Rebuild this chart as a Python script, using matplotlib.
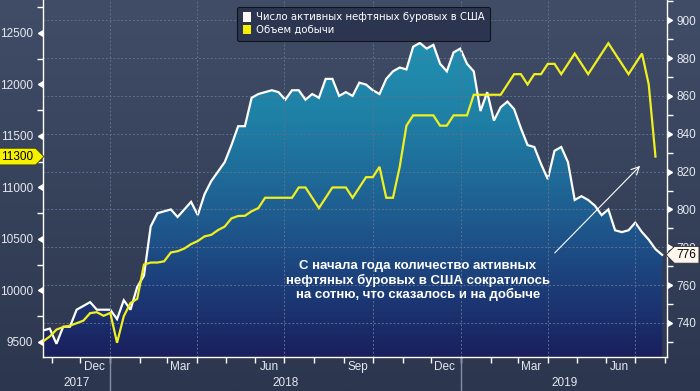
import numpy as np
import pandas as pd
import matplotlib
matplotlib.use("Agg")
import matplotlib.pyplot as plt
import matplotlib.dates as mdates
import matplotlib.transforms as mtransforms
from matplotlib.colors import LinearSegmentedColormap
from matplotlib.patches import Patch
from matplotlib.path import Path
from matplotlib.ticker import MultipleLocator
from matplotlib.markers import CARETLEFTBASE, CARETRIGHTBASE

#--------------------
# Data (weekly)
week_start = "2017-10-23"

# Baker Hughes oil rig count, right axis
rig_count = [736, 737, 729, 738, 738, 747, 749, 751, 747, 747, 747, 742,
             752, 747, 759, 765, 791, 798, 799, 800, 796, 800, 804, 797,
             808, 815, 820, 825, 834, 844, 844, 859, 861, 862, 863, 862,
             858, 863, 863, 858, 861, 859, 869, 869, 860, 862,
             860, 867, 866, 863, 861, 869, 873, 875, 874, 886, 888, 885,
             887, 877, 873, 883, 885, 877, 873, 852, 862, 847, 854,
             857, 853, 843, 834, 833, 824, 816, 831, 833, 825, 805, 807,
             805, 802, 797, 800, 789, 788, 789, 793, 788, 784, 779, 776]

# US crude production, thousand b/d, left axis
production = [9505, 9553, 9620, 9645, 9658, 9682, 9707, 9780, 9789, 9754,
              9782, 9492, 9750, 9878, 9919, 10251, 10271, 10271, 10283,
              10369, 10381, 10407, 10450, 10480,
              10525, 10540, 10586, 10620, 10700, 10723, 10725, 10769, 10800,
              10900, 10900, 10900, 10900, 10900, 11000, 11000, 10900, 10800,
              10900, 11000, 11000, 11000,
              10900, 11000, 11100, 11100, 11200, 10900, 10900, 11200, 11600,
              11700, 11700, 11700, 11700, 11600, 11600, 11700, 11700, 11700,
              11900, 11900, 11900, 11900, 11900,
              12000, 12100, 12100, 12000, 12100, 12100, 12200, 12200, 12100,
              12200, 12300, 12200, 12100, 12200, 12300, 12400, 12300, 12200,
              12100, 12200, 12300, 12000, 11300]

left_ticks = [9500, 10000, 10500, 11000, 11500, 12000, 12500]
right_ticks = [740, 760, 780, 800, 820, 840, 860, 880, 900]
years = [2017, 2018, 2019]
legend_labels = ["Число активных нефтяных буровых в США", "Объем добычи"]
note = ("С начала года количество активных\n"
        "нефтяных буровых в США сократилось\n"
        "на сотню, что сказалось и на добыче")

#--------------------
# Style
BG_TOP = "#414d67"
BG_BOTTOM = "#2c364f"
FILL_STOPS = [(0.0, "#2399b7"), (0.34, "#1f7fa5"), (0.62, "#1e5a8e"),
              (0.81, "#1c3c78"), (1.0, "#1a1f5e")]
YELLOW = "#f0f01e"
GRID = "#5d7090"
TXT = "#e4e8f0"
TICK_FONT = "Liberation Sans"

X_MIN, X_MAX = pd.Timestamp("2017-10-23"), pd.Timestamp("2019-08-03")
YL_MIN, YL_MAX = 9354, 12820
YR_MIN, YR_MAX = 722, 910.7

rig_dates = pd.date_range(week_start, periods=len(rig_count), freq="7D")
prod_dates = rig_dates[:len(production)]


def tag_box(pointing):
    """Callable box style: label box with a pointed end."""
    def style(x0, y0, width, height, mutation_size):
        pad = 0.2 * mutation_size
        x0, y0 = x0 - pad, y0 - pad
        x1, y1 = x0 + width + 2 * pad, y0 + height + 2 * pad
        ym = (y0 + y1) / 2
        tip = (y1 - y0) / 2
        if pointing == "right":
            verts = [(x0, y0), (x1, y0), (x1 + tip, ym), (x1, y1), (x0, y1), (x0, y0)]
        else:
            verts = [(x0, y0), (x1, y0), (x1, y1), (x0, y1), (x0 - tip, ym), (x0, y0)]
        return Path(verts, closed=True)
    return style


fig = plt.figure(figsize=(7, 3.91), dpi=100)
fig.patch.set_facecolor(BG_BOTTOM)

# background gradient
bg = fig.add_axes([0, 0, 1, 1], zorder=-10)
bg_cmap = LinearSegmentedColormap.from_list("bg", [BG_TOP, BG_BOTTOM])
bg.imshow(np.linspace(0, 1, 256).reshape(-1, 1), cmap=bg_cmap,
          aspect="auto", extent=[0, 1, 0, 1])
bg.set_axis_off()

ax = fig.add_axes([43 / 700, 1 - 357 / 391, 624 / 700, 357 / 391])
ax_r = ax.twinx()
ax.set_zorder(ax_r.get_zorder() + 1)
ax.patch.set_visible(False)
ax_r.patch.set_visible(False)

# rig count: gradient area + white line
x0n, x1n = mdates.date2num(X_MIN), mdates.date2num(X_MAX)
area = ax_r.fill_between(rig_dates, rig_count, YR_MIN, facecolor="none",
                         edgecolor="none")
fill_cmap = LinearSegmentedColormap.from_list("fill", FILL_STOPS)
grad = ax_r.imshow(np.linspace(0, 1, 256).reshape(-1, 1), cmap=fill_cmap,
                   aspect="auto", extent=[x0n, x1n, YR_MIN, YR_MAX], zorder=1)
grad.set_clip_path(area.get_paths()[0], transform=ax_r.transData)
ax_r.plot(rig_dates, rig_count, color="white", lw=1.6, zorder=3,
          solid_joinstyle="miter")

# production: yellow line
ax.plot(prod_dates, production, color=YELLOW, lw=1.6, zorder=4,
        solid_joinstyle="miter")

# limits
ax.set_xlim(X_MIN, X_MAX)
ax.set_ylim(YL_MIN, YL_MAX)
ax_r.set_ylim(YR_MIN, YR_MAX)

# y axes
ax.set_yticks(left_ticks)
ax.yaxis.set_minor_locator(MultipleLocator(250))
ax_r.set_yticks(right_ticks)
ax_r.yaxis.set_minor_locator(MultipleLocator(10))
ax.tick_params(axis="y", which="major", length=5, width=1, color="white",
               labelcolor=TXT, labelsize=8.5, pad=2)
ax.tick_params(axis="y", which="minor", length=4, width=1, color="white")
ax_r.tick_params(axis="y", which="major", length=5, width=1, color="white",
                 labelcolor=TXT, labelsize=8.5, pad=2)
ax_r.tick_params(axis="y", which="minor", length=4, width=1, color="white")
for t in ax.yaxis.get_major_ticks():
    t.tick1line.set_marker(CARETLEFTBASE)
for t in ax_r.yaxis.get_major_ticks():
    t.tick2line.set_marker(CARETRIGHTBASE)

# horizontal grid on right-axis majors, above the area
ax_r.set_axisbelow(False)
ax_r.yaxis.grid(True, color=GRID, ls=(0, (2, 2)), lw=0.7)

# x axis: month ticks, labels mid-month every quarter
ax.xaxis.set_major_locator(mdates.MonthLocator())
ax.xaxis.set_major_formatter(plt.NullFormatter())
ax.xaxis.set_minor_locator(mdates.MonthLocator(bymonth=[3, 6, 9, 12], bymonthday=15))
ax.xaxis.set_minor_formatter(mdates.DateFormatter("%b"))
ax.tick_params(axis="x", which="major", length=4, width=1, color="white")
ax.tick_params(axis="x", which="minor", length=0, labelcolor=TXT,
               labelsize=8.5, pad=3)

for lbl in (ax.get_yticklabels() + ax_r.get_yticklabels()
            + ax.get_xticklabels(minor=True)):
    lbl.set_family(TICK_FONT)

for q in pd.date_range(X_MIN, X_MAX, freq="QS"):
    ax.axvline(q, color=GRID, ls=(0, (2, 2)), lw=0.7, zorder=2.5)

trans = mtransforms.blended_transform_factory(ax.transData, ax.transAxes)
for yr in years:
    lo = max(pd.Timestamp(f"{yr}-01-01"), X_MIN)
    hi = min(pd.Timestamp(f"{yr + 1}-01-01"), X_MAX)
    ax.text(lo + (hi - lo) / 2, -0.072, str(yr), transform=trans,
            ha="center", va="center", color=TXT, fontsize=8.5,
            family=TICK_FONT)
    if pd.Timestamp(f"{yr}-01-01") > X_MIN:
        ax.plot([pd.Timestamp(f"{yr}-01-01")] * 2, [0, -0.12], transform=trans,
                color="#8290a6", lw=1, clip_on=False)

for side in ["top", "right"]:
    ax.spines[side].set_visible(False)
for side in ["top", "left", "bottom"]:
    ax_r.spines[side].set_visible(False)
for sp in [ax.spines["left"], ax.spines["bottom"], ax_r.spines["right"]]:
    sp.set_color("white")
    sp.set_linewidth(1)

# legend
handles = [Patch(facecolor="#fff5f5", edgecolor="none"),
           Patch(facecolor="#f5f000", edgecolor="none")]
leg = ax.legend(handles, legend_labels, loc="upper left",
                bbox_to_anchor=(0.303, 0.995), fontsize=7.3,
                labelcolor="white", handlelength=0.8, handleheight=1.0,
                handletextpad=0.5, borderpad=0.55, labelspacing=0.25,
                fancybox=True, framealpha=1, facecolor="#2c3550",
                edgecolor="#101318")
leg.get_frame().set_linewidth(0.8)
leg.set_zorder(10)

# last value tags
ax.annotate(f"{production[-1]}", xy=(0, production[-1]),
            xycoords=("axes fraction", "data"), xytext=(-7, 0),
            textcoords="offset points", ha="right", va="center",
            fontsize=8.5, color="black", family=TICK_FONT,
            annotation_clip=False, zorder=12,
            bbox=dict(boxstyle=tag_box("right"), fc="#f5f200", ec="#3a3a10", lw=0.6))
ax_r.annotate(f"{rig_count[-1]}", xy=(1, rig_count[-1]),
              xycoords=("axes fraction", "data"), xytext=(7, 0),
              textcoords="offset points", ha="left", va="center",
              fontsize=8.5, color="black", family=TICK_FONT,
              annotation_clip=False, zorder=12,
              bbox=dict(boxstyle=tag_box("left"), fc="#fff6ee", ec="#303030", lw=0.6))

# comment and arrow
ax.text(0.601, 0.213, note, transform=ax.transAxes, ha="center", va="center",
        multialignment="center", color="white", fontsize=9.5,
        fontweight="bold", family="Liberation Sans", linespacing=1.15, zorder=8)
ax.annotate("", xy=(0.960, 0.541), xytext=(0.817, 0.286),
            xycoords="axes fraction",
            arrowprops=dict(arrowstyle="->", color="white", lw=0.8,
                            mutation_scale=14), zorder=8)

fig.savefig("out.png", dpi=100, facecolor=fig.get_facecolor())
